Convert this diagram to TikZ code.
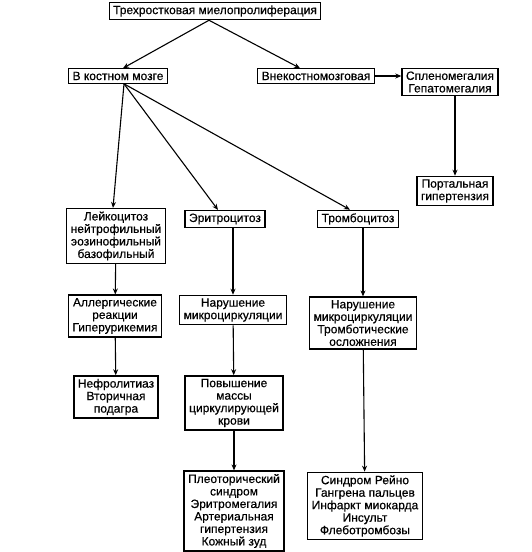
\documentclass[tikz,border=0pt]{standalone}
\usepackage{fontspec}
\setmainfont{Liberation Sans}[FakeBold=0.5]
\usetikzlibrary{arrows.meta}

\tikzset{
  box/.style={draw, line width=1.3pt, align=center, inner xsep=4pt, inner ysep=3pt,
    font=\fontsize{12}{12.5}\selectfont},
  arr/.style={-{Stealth[length=6pt,width=5pt]}, line width=1.1pt}
}

\begin{document}
\begin{tikzpicture}[x=1pt,y=-1pt]
  \useasboundingbox (0,0) rectangle (531,552);

  % top levels
  \node[box] (myelo) at (215,11) {Трехростковая миелопролиферация};
  \node[box] (marrow) at (118,76) {В костном мозге};
  \node[box] (extra) at (316,76) {Внекостномозговая};
  \node[box] (spleno) at (450,82) {Спленомегалия\\Гепатомегалия};
  \node[box] (portal) at (455,191) {Портальная\\гипертензия};

  % three lines of cells
  \node[box] (leuko) at (116,236) {Лейкоцитоз\\нейтрофильный\\эозинофильный\\базофильный};
  \node[box] (erythro) at (225,219) {Эритроцитоз};
  \node[box] (thrombo) at (358,219) {Тромбоцитоз};

  \node[box] (allerg) at (115,316) {Аллергические\\реакции\\Гиперурикемия};
  \node[box] (micro) at (233,310) {Нарушение\\микроциркуляции};
  \node[box] (microthr) at (363,323) {Нарушение\\микроциркуляции\\Тромботические\\осложнения};

  \node[box] (nephro) at (116,397) {Нефролитиаз\\Вторичная\\подагра};
  \node[box] (mass) at (234,403) {Повышение\\массы\\циркулирующей\\крови};

  \node[box] (pleth) at (234,511) {Плеоторический\\синдром\\Эритромегалия\\Артериальная\\гипертензия\\Кожный зуд};
  \node[box] (raynaud) at (365,506) {Синдром Рейно\\Гангрена пальцев\\Инфаркт миокарда\\Инсульт\\Флеботромбозы};

  % arrows
  \draw[arr] ([xshift=-6pt]myelo.south) -- ([xshift=5pt]marrow.north);
  \draw[arr] ([xshift=-6pt]myelo.south) -- ([xshift=-16pt]extra.north);
  \draw[arr] (extra) -- (spleno.west |- extra);
  \draw[arr] (portal.north |- spleno.south) -- (portal.north);

  \draw[arr] ([xshift=6pt]marrow.south) -- ([xshift=-3pt]leuko.north);
  \draw[arr] ([xshift=6pt]marrow.south) -- ([xshift=-7pt]erythro.north);
  \draw[arr] ([xshift=6pt]marrow.south) -- ([xshift=-8pt]thrombo.north);

  \draw[arr] (leuko) -- (allerg);
  \draw[arr] (allerg) -- (nephro);
  \draw[arr] (micro.north |- erythro.south) -- (micro.north);
  \draw[arr] (micro) -- (mass);
  \draw[arr] (mass) -- (pleth);
  \draw[arr] (microthr.north |- thrombo.south) -- (microthr.north);
  \draw[arr] (microthr) -- (raynaud);
\end{tikzpicture}
\end{document}
